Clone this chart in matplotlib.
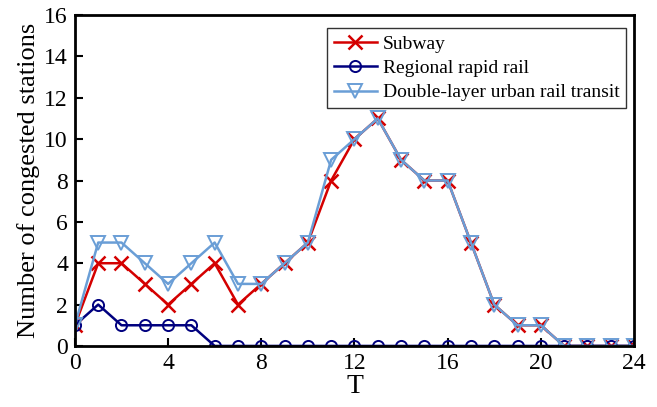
import matplotlib
matplotlib.use("Agg")
import matplotlib.pyplot as plt

plt.rcParams["font.family"] = ["Liberation Serif", "DejaVu Serif"]

RED = "#D40000"
NAVY = "#00007F"
LIGHT_BLUE = "#6A9ED6"

hours = list(range(25))
subway = [1, 4, 4, 3, 2, 3, 4, 2, 3, 4, 5, 8, 10, 11, 9, 8, 8, 5, 2, 1, 1, 0, 0, 0, 0]
regional = [1, 2, 1, 1, 1, 1, 0, 0, 0, 0, 0, 0, 0, 0, 0, 0, 0, 0, 0, 0, 0, 0, 0, 0, 0]
double_layer = [1, 5, 5, 4, 3, 4, 5, 3, 3, 4, 5, 9, 10, 11, 9, 8, 8, 5, 2, 1, 1, 0, 0, 0, 0]

x_ticks = [0, 4, 8, 12, 16, 20, 24]
y_ticks = [0, 2, 4, 6, 8, 10, 12, 14, 16]

fig, ax = plt.subplots(figsize=(6.57, 4.07), dpi=100)
fig.subplots_adjust(left=0.114, right=0.965, top=0.963, bottom=0.15)

ax.plot(hours, subway, color=RED, lw=1.8, marker="x", ms=10, mew=1.8, label="Subway")
ax.plot(hours, regional, color=NAVY, lw=1.8, marker="o", ms=8, mfc="none", mew=1.4,
        label="Regional rapid rail")
ax.plot(hours, double_layer, color=LIGHT_BLUE, lw=1.8, marker="v", ms=10, mfc="none", mew=1.4,
        label="Double-layer urban rail transit")

ax.set_xlim(0, 24)
ax.set_ylim(0, 16)
ax.set_xticks(x_ticks)
ax.set_yticks(y_ticks)
ax.tick_params(direction="in", length=6, width=1.5, labelsize=17, pad=5)
for side in ax.spines.values():
    side.set_linewidth(2)

ax.set_xlabel("T", fontsize=20, labelpad=0)
ax.set_ylabel("Number of congested stations", fontsize=19, labelpad=3)

leg = ax.legend(loc="upper right", bbox_to_anchor=(0.993, 0.972), fontsize=14, frameon=True,
                fancybox=False, edgecolor="black", handlelength=2.2, borderpad=0.35,
                labelspacing=0.35, handletextpad=0.3, borderaxespad=0.2)
leg.get_frame().set_linewidth(1.0)

fig.savefig("out.png", dpi=100)
